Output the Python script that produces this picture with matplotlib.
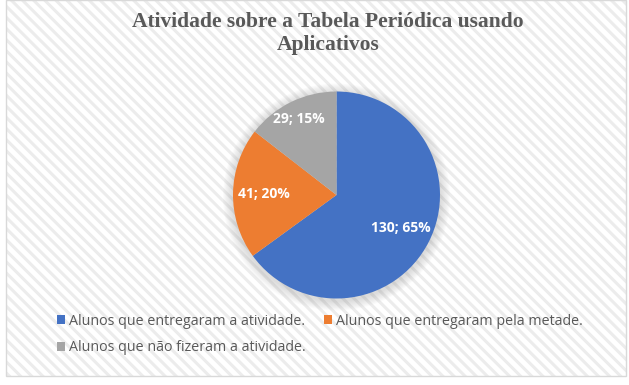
import numpy as np
import matplotlib
matplotlib.use("Agg")
import matplotlib.pyplot as plt
from matplotlib.patches import Rectangle, Circle

# Data
categories = ["Alunos que entregaram a atividade.",
              "Alunos que entregaram pela metade.",
              "Alunos que não fizeram a atividade."]
values = [130, 41, 29]
percents = [65, 20, 15]
colors = ["#4472C4", "#ED7D31", "#A5A5A5"]
title = "Atividade sobre a Tabela Periódica usando\nAplicativos"

W, H = 629, 385
fig = plt.figure(figsize=(W / 100, H / 100), dpi=100)
fig.patch.set_facecolor("white")

# framed background with diagonal stripes (separate background axes)
plt.rcParams['hatch.color'] = "#ececec"
plt.rcParams['hatch.linewidth'] = 2.2
bgax = fig.add_axes([0, 0, 1, 1], zorder=-10)
bgax.set_xlim(0, W)
bgax.set_ylim(H, 0)
bgax.axis("off")
bgax.add_patch(Rectangle((6, 0), 620, 376, facecolor="white", edgecolor="#ececec",
                         hatch="\\\\\\", lw=0))
bgax.add_patch(Rectangle((6, 0), 620, 376, facecolor="none", edgecolor="#d9d9d9", lw=1.0))

# Title
fig.text(328 / W, 1 - 12 / H, title, ha="center", va="top", fontsize=15.5,
         fontweight="bold", family="Liberation Serif", color="#595959",
         linespacing=1.22)

# Pie axes: center (336.5,195), radius ~103.5
cx, cy, r = 336.5, 195, 103.5
ax = fig.add_axes([(cx - r) / W, 1 - (cy + r) / H, 2 * r / W, 2 * r / H], zorder=1)
ax.set_aspect("equal")

# soft shadow
for k in range(8):
    ax.add_patch(Circle((0, -0.02), 1.0 + 0.012 * (k + 1), facecolor="#808080",
                        alpha=0.035, edgecolor="none", zorder=0, clip_on=False))

wedges, _ = ax.pie(values, colors=colors, startangle=90, counterclock=False,
                   radius=1.0, wedgeprops=dict(linewidth=0, zorder=2))
ax.set_xlim(-1, 1)
ax.set_ylim(-1, 1)
ax.axis("off")

dists = [0.70, 0.70, 0.82]
for w, v, p, d in zip(wedges, values, percents, dists):
    mid = np.deg2rad((w.theta1 + w.theta2) / 2)
    ax.text(d * np.cos(mid), d * np.sin(mid), f"{v}; {p}%", ha="center", va="center",
            color="white", fontsize=10, fontweight="bold", family="Open Sans", zorder=5)

# Legend
handles = wedges
order = [0, 2, 1]
leg = fig.legend([handles[i] for i in order], [categories[i] for i in order],
                 ncol=2, loc="upper left", bbox_to_anchor=(44 / W, 1 - 301 / H),
                 frameon=False, handlelength=0.6, handleheight=0.6, handletextpad=0.25,
                 columnspacing=1.25, labelspacing=0.8,
                 prop=dict(family="Open Sans", size=10.3))
for t in leg.get_texts():
    t.set_color("#595959")

fig.savefig("out.png", dpi=100)
